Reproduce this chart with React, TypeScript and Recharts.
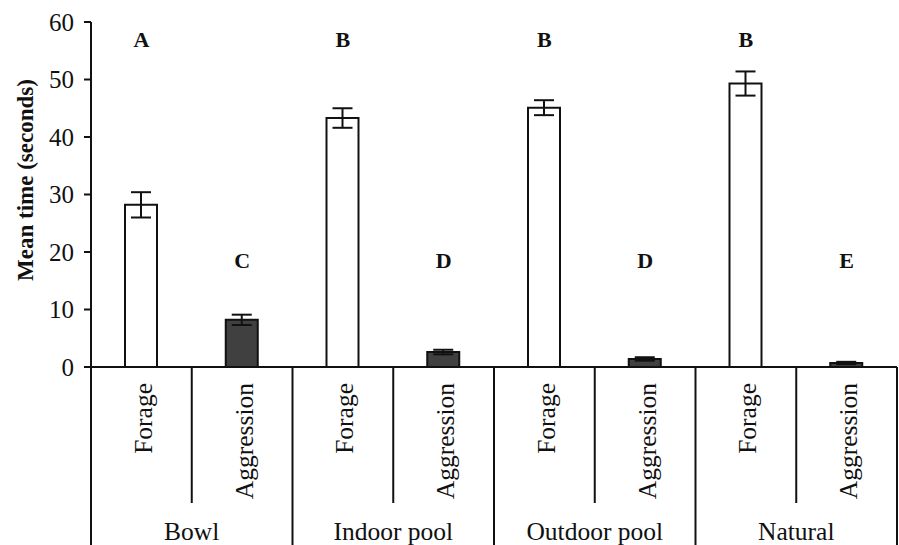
import React from 'react';
import { ComposedChart, Bar, Line, XAxis, YAxis, ErrorBar, Cell } from 'recharts';

const groups = ['Bowl', 'Indoor pool', 'Outdoor pool', 'Natural'];
const behaviours = ['Forage', 'Aggression'];
const means = [28.2, 8.2, 43.3, 2.6, 45.1, 1.4, 49.3, 0.7];
const errors = [2.2, 0.9, 1.7, 0.4, 1.3, 0.3, 2.1, 0.2];
const letters = ['A', 'C', 'B', 'D', 'B', 'D', 'B', 'E'];
const letterY = [56.9, 18.6, 56.9, 18.6, 56.9, 18.6, 56.9, 18.6];
const yTicks = [0, 10, 20, 30, 40, 50, 60];

const W = 899;
const H = 545;
const Y_AXIS_W = 91;
const MARGIN = { top: 22, right: 2, bottom: 0, left: 0 };
const X_AXIS_H = 178;
const PLOT_W = W - Y_AXIS_W - MARGIN.right - MARGIN.left;
const FONT = '"Liberation Serif", "Times New Roman", serif';

const data = means.map((m, i) => ({
  key: groups[Math.floor(i / 2)] + '-' + behaviours[i % 2],
  group: groups[Math.floor(i / 2)],
  behaviour: behaviours[i % 2],
  mean: m,
  err: errors[i],
  letter: letters[i],
  letterY: letterY[i],
}));

const fills = ['#ffffff', '#404040'];

function XTick(props: any) {
  const { x, y, payload } = props;
  const i = props.index ?? payload.index;
  const bw = PLOT_W / data.length;
  const d = data[i];
  const isGroupEnd = i % 2 === 1;
  return (
    <g>
      <text
        transform={`translate(${x + 10.5}, ${y + 16}) rotate(-90)`}
        textAnchor="end"
        fontFamily={FONT}
        fontSize={25.5}
        fill="#111"
      >
        {d.behaviour}
      </text>
      {i === 0 && (
        <line x1={x - bw / 2} x2={x - bw / 2} y1={y} y2={y + X_AXIS_H} stroke="#111" strokeWidth={2} />
      )}
      <line
        x1={x + bw / 2}
        x2={x + bw / 2}
        y1={y}
        y2={y + (isGroupEnd ? X_AXIS_H : 136)}
        stroke="#111"
        strokeWidth={2}
      />
      {isGroupEnd && (
        <text x={x - bw / 2} y={y + 173} textAnchor="middle" fontFamily={FONT} fontSize={25.5} fill="#111">
          {d.group}
        </text>
      )}
    </g>
  );
}

function renderLetter(props: any) {
  const { x, y, index } = props;
  return (
    <text
      key={'l' + index}
      x={x}
      y={y + 7.5}
      textAnchor="middle"
      fontFamily={FONT}
      fontWeight="bold"
      fontSize={22}
      fill="#111"
    >
      {data[index].letter}
    </text>
  );
}

export default function App() {
  return (
    <div style={{ position: 'absolute', left: 0, top: 0, background: '#fff' }}>
      <ComposedChart width={W} height={H} data={data} margin={MARGIN}>
        <XAxis
          dataKey="key"
          type="category"
          height={X_AXIS_H}
          interval={0}
          tickLine={false}
          tickSize={0}
          tickMargin={0}
          axisLine={{ stroke: '#111', strokeWidth: 2 }}
          tick={<XTick />}
        />
        <YAxis
          width={Y_AXIS_W}
          domain={[0, 60]}
          ticks={yTicks}
          interval={0}
          tickSize={7}
          tickMargin={10}
          axisLine={{ stroke: '#111', strokeWidth: 2 }}
          tickLine={{ stroke: '#111', strokeWidth: 2 }}
          tick={{ fontFamily: FONT, fontSize: 25, fill: '#111' }}
          label={{
            content: () => (
              <text
                transform="translate(33, 180) rotate(-90)"
                textAnchor="middle"
                fontFamily={FONT}
                fontWeight="bold"
                fontSize={23}
                fill="#111"
              >
                Mean time (seconds)
              </text>
            ),
          }}
        />
        <Bar dataKey="mean" barSize={32} stroke="#111" strokeWidth={2} isAnimationActive={false}>
          {data.map((d, i) => (
            <Cell key={d.key} fill={fills[i % 2]} />
          ))}
          <ErrorBar dataKey="err" width={10} stroke="#111" strokeWidth={2} />
        </Bar>
        <Line
          dataKey="letterY"
          stroke="none"
          dot={false}
          activeDot={false}
          isAnimationActive={false}
          label={renderLetter}
        />
      </ComposedChart>
    </div>
  );
}
